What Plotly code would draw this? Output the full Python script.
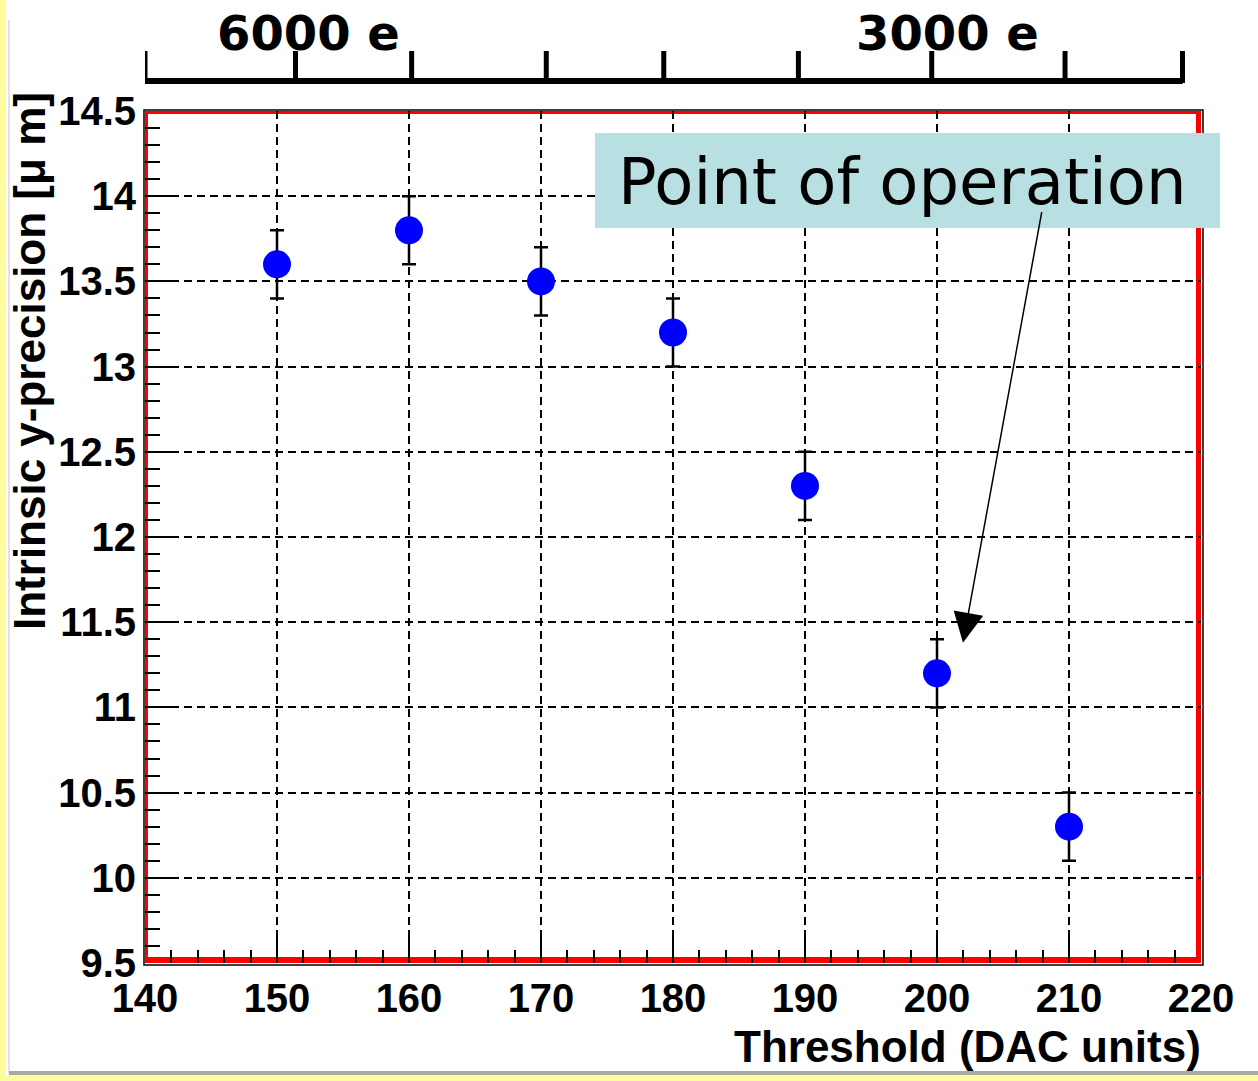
import plotly.graph_objects as go

# ---- data ----
threshold = [150, 160, 170, 180, 190, 200, 210]
precision = [13.6, 13.8, 13.5, 13.2, 12.3, 11.2, 10.3]
precision_err = [0.2, 0.2, 0.2, 0.2, 0.2, 0.2, 0.2]

x_tick_vals = [140, 150, 160, 170, 180, 190, 200, 210, 220]
y_tick_vals = [9.5, 10, 10.5, 11, 11.5, 12, 12.5, 13, 13.5, 14, 14.5]
y_tick_text = ["9.5", "10", "10.5", "11", "11.5", "12", "12.5", "13", "13.5", "14", "14.5"]

# secondary (charge) scale drawn on top, positions in threshold units
top_tick_thresholds = [140, 151.4, 160.2, 170.4, 179.3, 189.5, 199.6, 209.7, 218.6]
top_label_thresholds = [152.4, 200.8]
top_labels = ["6000 e", "3000 e"]

annot_text = "Point of operation"
annot_point = (201.97, 11.38)

# ---- layout geometry ----
W, H = 1258, 1081
L, R, T, B = 145, 57, 111, 118
PW, PH = W - L - R, H - T - B


def px(xp):
    return (xp - L) / PW


def py(yp):
    return (H - B - yp) / PH


fig = go.Figure()

fig.add_trace(go.Scatter(
    x=threshold, y=precision, mode="markers",
    marker=dict(color="#0000ff", size=28, line=dict(width=0)),
    error_y=dict(type="data", array=precision_err, color="black", thickness=2.5, width=7),
    showlegend=False,
))

tick_font = dict(family="Liberation Sans, Arial, sans-serif", size=40, color="black", weight="bold")

fig.update_xaxes(
    range=[140, 220], tickvals=x_tick_vals, ticks="inside", ticklen=26, tickwidth=2,
    tickcolor="black", showline=False, zeroline=False,
    showgrid=True, gridcolor="black", gridwidth=2, griddash="8px,5px",
    minor=dict(ticks="inside", ticklen=13, tickwidth=2, tickcolor="black", dtick=2, showgrid=False),
    tickfont=tick_font, ticklabelstandoff=8,
)
fig.update_yaxes(
    range=[9.5, 14.5], tickvals=y_tick_vals, ticktext=y_tick_text, ticks="inside",
    ticklen=30, tickwidth=2, tickcolor="black", showline=False, zeroline=False,
    showgrid=True, gridcolor="black", gridwidth=2, griddash="8px,5px",
    minor=dict(ticks="inside", ticklen=15, tickwidth=2, tickcolor="black", dtick=0.1, showgrid=False),
    tickfont=tick_font, ticklabelstandoff=8,
)

shapes = []
# frame: black outline + red border
shapes.append(dict(type="rect", xref="paper", yref="paper", x0=px(144), x1=px(1203),
                   y0=py(965), y1=py(110), line=dict(color="black", width=1.5), layer="below"))
shapes.append(dict(type="line", xref="paper", yref="paper", x0=px(146.5), x1=px(146.5),
                   y0=py(963), y1=py(111), line=dict(color="red", width=3), layer="below"))
shapes.append(dict(type="line", xref="paper", yref="paper", x0=px(145), x1=px(1201),
                   y0=py(112.5), y1=py(112.5), line=dict(color="red", width=3), layer="below"))
shapes.append(dict(type="line", xref="paper", yref="paper", x0=px(1198.5), x1=px(1198.5),
                   y0=py(963), y1=py(111), line=dict(color="red", width=5), layer="below"))
shapes.append(dict(type="line", xref="paper", yref="paper", x0=px(145), x1=px(1201),
                   y0=py(960), y1=py(960), line=dict(color="red", width=6), layer="below"))

# top charge axis
shapes.append(dict(type="line", xref="x", yref="paper", x0=top_tick_thresholds[0],
                   x1=top_tick_thresholds[-1], y0=py(81), y1=py(81),
                   line=dict(color="black", width=6)))
for t in top_tick_thresholds:
    shapes.append(dict(type="line", xref="x", yref="paper", x0=t, x1=t,
                       y0=py(83), y1=py(51), line=dict(color="black", width=5)))

# annotation box
shapes.append(dict(type="rect", xref="paper", yref="paper", x0=px(595), x1=px(1220),
                   y0=py(228), y1=py(133), fillcolor="#b8dfe1", line=dict(width=0), layer="above"))

# outer slide decorations
shapes.append(dict(type="rect", xref="paper", yref="paper", x0=px(0), x1=px(6),
                   y0=py(H), y1=py(0), fillcolor="#fdfda0", line=dict(width=0)))
shapes.append(dict(type="line", xref="paper", yref="paper", x0=px(9), x1=px(9),
                   y0=py(1073), y1=py(20), line=dict(color="#e2e2e2", width=2)))
shapes.append(dict(type="rect", xref="paper", yref="paper", x0=px(0), x1=px(W),
                   y0=py(H), y1=py(1075), fillcolor="#fdfda0", line=dict(width=0)))
shapes.append(dict(type="line", xref="paper", yref="paper", x0=px(9), x1=px(W),
                   y0=py(1073), y1=py(1073), line=dict(color="#a8a8a8", width=4)))

annotations = []
for lx, lt in zip(top_label_thresholds, top_labels):
    annotations.append(dict(x=lx, y=py(33), xref="x", yref="paper", text=lt, showarrow=False,
                            xanchor="center", yanchor="middle",
                            font=dict(family="DejaVu Sans", size=48, color="black", weight="bold")))

annotations.append(dict(x=px(902), y=py(182), xref="paper", yref="paper", text=annot_text,
                        showarrow=False, xanchor="center", yanchor="middle",
                        font=dict(family="DejaVu Sans", size=64, color="black")))

annotations.append(dict(x=annot_point[0], y=annot_point[1], xref="x", yref="y", text="",
                        showarrow=True, arrowhead=2, arrowsize=4, arrowwidth=1.5, arrowcolor="black",
                        ax=79, ay=-432))

annotations.append(dict(x=px(1203), y=py(1046), xref="paper", yref="paper",
                        text="Threshold (DAC units)", showarrow=False, xanchor="right", yanchor="middle",
                        font=dict(family="Liberation Sans, Arial, sans-serif", size=44, color="black", weight="bold")))

annotations.append(dict(x=px(30), y=py(90), xref="paper", yref="paper",
                        text="Intrinsic y-precision [\u03bc m]", showarrow=False, textangle=-90,
                        xanchor="center", yanchor="top",
                        font=dict(family="Liberation Sans, Arial, sans-serif", size=44, color="black", weight="bold")))

fig.update_layout(
    width=W, height=H, margin=dict(l=L, r=R, t=T, b=B, pad=0),
    paper_bgcolor="white", plot_bgcolor="white",
    shapes=shapes, annotations=annotations, showlegend=False,
)

fig.write_html("out.html")
